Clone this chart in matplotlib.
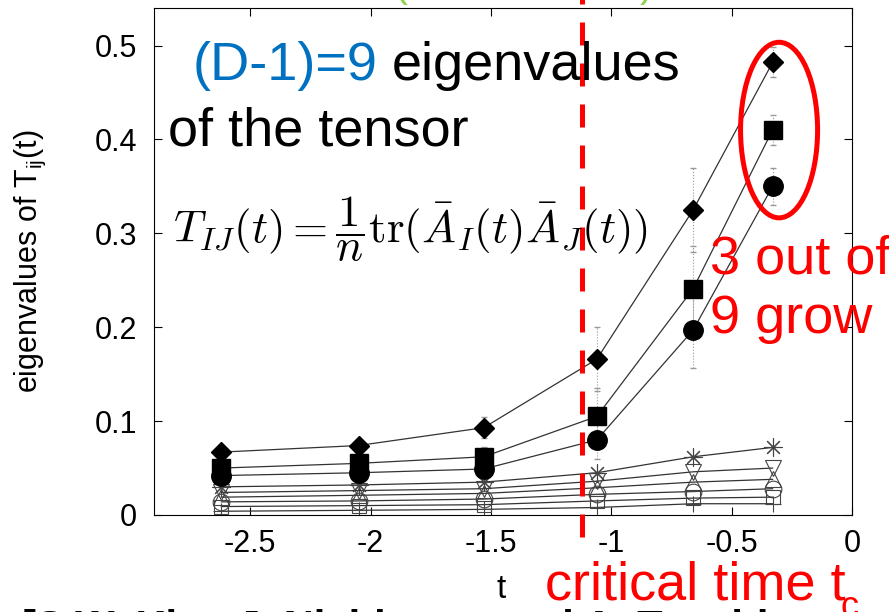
import matplotlib.pyplot as plt
from matplotlib.patches import Ellipse

plt.rcParams['font.family'] = ['Liberation Sans', 'DejaVu Sans']

# --------------------------------------------------------------
# Data
# --------------------------------------------------------------

t = [-2.62, -2.05, -1.53, -1.06, -0.66, -0.33]

ev_diamond = [0.067, 0.074, 0.093, 0.166, 0.325, 0.482]
ev_square = [0.050, 0.055, 0.062, 0.105, 0.241, 0.410]
ev_circle = [0.042, 0.045, 0.049, 0.080, 0.197, 0.350]
err_diamond = [0.004, 0.004, 0.011, 0.034, 0.045, 0.016]
err_square = [0.004, 0.004, 0.010, 0.030, 0.045, 0.016]
err_circle = [0.003, 0.003, 0.008, 0.020, 0.040, 0.020]

ev_star = [0.030, 0.032, 0.035, 0.045, 0.062, 0.072]
ev_tri_down = [0.024, 0.026, 0.028, 0.036, 0.046, 0.050]
ev_tri_up = [0.019, 0.021, 0.023, 0.029, 0.035, 0.038]
ev_open_circle = [0.014, 0.015, 0.017, 0.022, 0.025, 0.028]
ev_open_square = [0.009, 0.010, 0.011, 0.015, 0.018, 0.019]
ev_plus = [0.004, 0.005, 0.006, 0.008, 0.012, 0.012]

t_critical = -1.12

# --------------------------------------------------------------
# Plot
# --------------------------------------------------------------

fig = plt.figure(figsize=(8.89, 6.12), dpi=100)
ax = fig.add_axes([154 / 889, 97 / 612, 698 / 889, 507 / 612])

filled = [
    (ev_diamond, err_diamond, "D", 10),
    (ev_square, err_square, "s", 13),
    (ev_circle, err_circle, "o", 14),
]
for vals, errs, marker, ms in filled:
    eb = ax.errorbar(t, vals, yerr=errs, color="#333333", lw=0.9,
                     marker=marker, ms=ms, mfc="black", mec="black",
                     ecolor="#999999", elinewidth=0.8, capsize=2.5, zorder=3)
    eb[2][0].set_linestyle(":")

opened = [
    (ev_star, (8, 2, 0), 13),
    (ev_tri_down, "v", 12),
    (ev_tri_up, "^", 12),
    (ev_open_circle, "o", 12),
    (ev_open_square, "s", 10),
    (ev_plus, "+", 12),
]
for vals, marker, ms in opened:
    ax.plot(t, vals, color="#333333", lw=0.9, marker=marker, ms=ms,
            mfc="none", mec="#444444", mew=0.8, zorder=2)

ax.set_xlim(-2.9, 0)
ax.set_ylim(0, 0.54)
ax.set_xticks([-2.5, -2, -1.5, -1, -0.5, 0])
ax.set_xticklabels(["-2.5", "-2", "-1.5", "-1", "-0.5", "0"])
ax.set_yticks([0, 0.1, 0.2, 0.3, 0.4, 0.5])
ax.set_yticklabels(["0", "0.1", "0.2", "0.3", "0.4", "0.5"])
ax.tick_params(direction="in", length=6, top=True, right=True,
               labelsize=22)
ax.tick_params(axis="y", pad=12)
ax.tick_params(axis="x", pad=10)
ax.set_xlabel("t", fontsize=24)
ax.xaxis.set_label_coords(0.497, -0.116)
ax.set_ylabel(r"eigenvalues of T$_{\mathregular{ij}}$(t)", fontsize=22)
ax.yaxis.set_label_coords(-0.152, 0.5)

# critical time line
ax.axvline(t_critical, ymin=-0.043, ymax=1.02, color="red", lw=3.6,
           dashes=(4.6, 3.6), clip_on=False, zorder=5)

# ellipse around the growing eigenvalues
ax.add_patch(Ellipse((-0.303, 0.41), 0.32, 0.187, fill=False,
                     edgecolor="red", lw=3.6, zorder=6, clip_on=False))

# --------------------------------------------------------------
# Annotations
# --------------------------------------------------------------

fig.text(193 / 889, 1 - 80 / 612, "(D-1)=9", color="#0070C0", fontsize=39)
fig.text(392 / 889, 1 - 80 / 612, "eigenvalues", color="black", fontsize=39)
fig.text(168 / 889, 1 - 145 / 612, "of the tensor", color="black", fontsize=39)
fig.text(173 / 889, 1 - 243 / 612,
         r"$T_{IJ}(t)=\dfrac{1}{n}\mathrm{tr}(\bar{A}_I(t)\bar{A}_J(t))$",
         fontsize=32.5, math_fontfamily="cm", va="baseline")
fig.text(710 / 889, 1 - 273 / 612, "3 out of", color="red", fontsize=39)
fig.text(710 / 889, 1 - 333 / 612, "9 grow", color="red", fontsize=39)
fig.text(545 / 889, 1 - 600 / 612, "critical time t", color="red", fontsize=39)
fig.text(840 / 889, 1 - 617 / 612, "c", color="red", fontsize=26)

fig.text(393 / 889, 1 + 4 / 612, "(", color="#92D050", fontsize=30)
fig.text(640 / 889, 1 + 4 / 612, ")", color="#92D050", fontsize=30)
fig.text(22 / 889, 1 - 640 / 612, "[S.W. Kim, J. Nishimura and A. Tsuchiya",
         color="black", fontsize=30, fontweight="bold")

plt.savefig("out.png", dpi=100)
